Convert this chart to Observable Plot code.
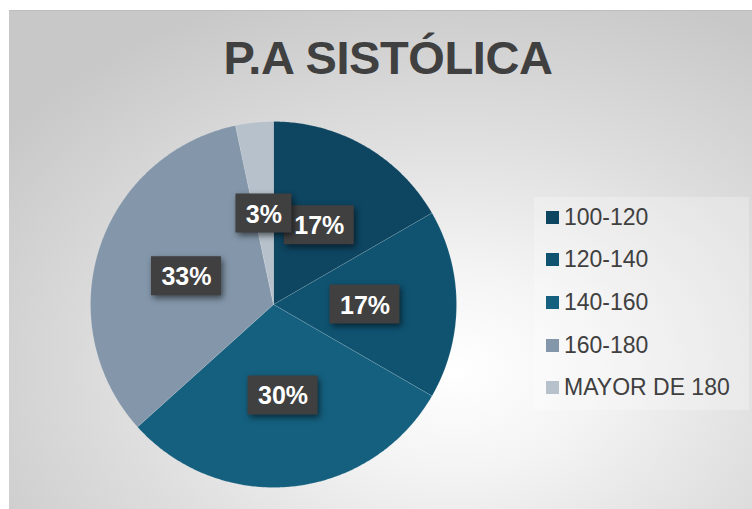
<!DOCTYPE html>
<html>
<head>
<meta charset="utf-8">
<script src="https://cdn.jsdelivr.net/npm/d3@7"></script>
<script src="https://cdn.jsdelivr.net/npm/@observablehq/plot@0.6"></script>
<style>
  html, body { margin: 0; padding: 0; background: #ffffff; }
  body { width: 752px; height: 509px; position: relative; overflow: hidden; font-family: "Liberation Sans", Arial, sans-serif; }
  #frame {
    position: absolute; left: 9px; top: 10px; width: 743px; height: 498px;
    background: radial-gradient(ellipse 75% 80% at 60% 72%, #ffffff 0%, #f4f4f4 25%, #dedede 60%, #c8c8c8 100%);
    border-top: 1px solid #bdbdbd;
  }
  #title {
    position: absolute; left: 0; width: 776px; top: 30px; text-align: center;
    font-weight: bold; font-size: 47px; color: #404040; letter-spacing: -0.4px;
  }
  #chart { position: absolute; left: 0; top: 0; }
  #chart g[aria-label="rect"] rect { filter: drop-shadow(2px 3px 3px rgba(0,0,0,0.55)); }
  #legend {
    position: absolute; left: 534px; top: 197px; width: 215px; height: 213px;
    background: rgba(255,255,255,0.25);
  }
  .item { position: absolute; left: 12px; height: 26px; display: flex; align-items: center;
    font-size: 23px; color: #404040; white-space: nowrap; }
  .sw { width: 13px; height: 13px; margin-right: 5px; }
</style>
</head>
<body>
<div id="frame"></div>
<div id="title">P.A SISTÓLICA</div>
<div id="chart"></div>
<div id="legend"></div>
<script>
const categories = ["100-120", "120-140", "140-160", "160-180", "MAYOR DE 180"];
const counts = [5, 5, 9, 10, 1];
const colors = ["#0e4561", "#0f5371", "#15607f", "#8497aa", "#b6c1cc"];

const total = d3.sum(counts);
const arcs = d3.pie().sort(null)(counts);

// slice polygons (unit circle, y up, angle 0 at 12 o'clock, clockwise)
const slicePts = [];
arcs.forEach((a, i) => {
  const cat = categories[i];
  slicePts.push({cat, x: 0, y: 0});
  const n = Math.max(8, Math.ceil((a.endAngle - a.startAngle) / 0.01));
  for (let k = 0; k <= n; k++) {
    const t = a.startAngle + (a.endAngle - a.startAngle) * k / n;
    slicePts.push({cat, x: Math.sin(t), y: Math.cos(t)});
  }
  slicePts.push({cat, x: 0, y: 0});
});

const R = 183; // px per unit
const labels = arcs.map((a, i) => {
  const m = (a.startAngle + a.endAngle) / 2;
  const txt = Math.round(counts[i] / total * 100) + "%";
  const w = (txt.length === 2 ? 56 : 70) / R;
  const h = 39 / R;
  const cx = 0.5 * Math.sin(m), cy = 0.5 * Math.cos(m);
  return {txt, cx, cy, x1: cx - w / 2, x2: cx + w / 2, y1: cy - h / 2, y2: cy + h / 2};
});

const plot = Plot.plot({
  width: 752, height: 509,
  margin: 0,
  style: {background: "transparent", overflow: "visible"},
  x: {domain: [-1, 1], range: [90, 456], axis: null},
  y: {domain: [-1, 1], range: [487, 121], axis: null},
  color: {domain: categories, range: colors},
  marks: [
    Plot.line(slicePts, {x: "x", y: "y", z: "cat", fill: "cat", stroke: "#ffffff", strokeOpacity: 0.2, strokeWidth: 0.6}),
    Plot.rect(labels, {x1: "x1", x2: "x2", y1: "y1", y2: "y2", fill: "#404040"}),
    Plot.text(labels, {x: "cx", y: "cy", text: "txt", fill: "#ffffff", fontSize: 25, fontWeight: "bold",
      fontFamily: "Liberation Sans, Arial, sans-serif", dy: 1})
  ]
});
document.getElementById("chart").appendChild(plot);

const legend = document.getElementById("legend");
categories.forEach((c, i) => {
  const d = document.createElement("div");
  d.className = "item";
  d.style.top = (7 + i * 42.7) + "px";
  d.innerHTML = `<div class="sw" style="background:${colors[i]}"></div><span>${c}</span>`;
  legend.appendChild(d);
});
</script>
</body>
</html>
